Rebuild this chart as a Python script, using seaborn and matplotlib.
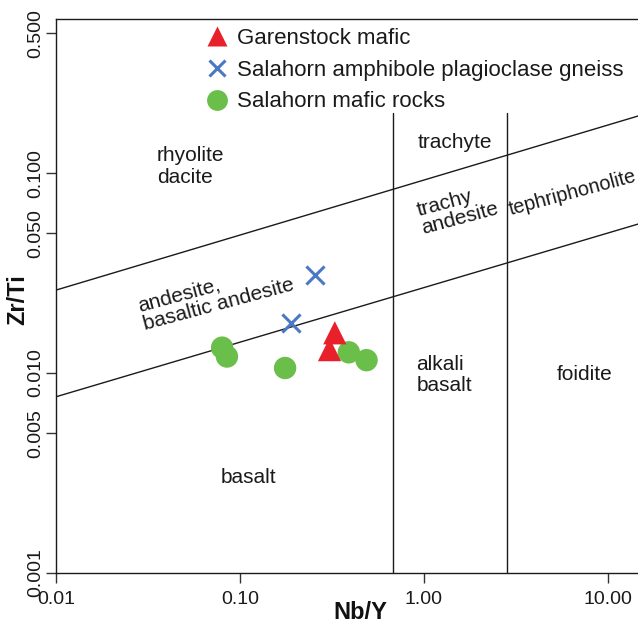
import numpy as np
import pandas as pd
import matplotlib
matplotlib.use("Agg")
import matplotlib.pyplot as plt
import seaborn as sns
from matplotlib.lines import Line2D

# ---- data ----
garen_nby = [0.328, 0.307]
garen_zrti = [0.0159, 0.0131]
gneiss_nby = [0.256, 0.189]
gneiss_zrti = [0.0309, 0.0177]
mafic_nby = [0.080, 0.085, 0.176, 0.391, 0.488]
mafic_zrti = [0.0134, 0.0121, 0.0106, 0.0127, 0.0116]
groups = ["Garenstock mafic", "Salahorn amphibole plagioclase gneiss", "Salahorn mafic rocks"]

# field boundaries (Nb/Y, Zr/Ti)
upper_bx = [0.01, 14.6]
upper_by = [0.0260, 0.193]
lower_bx = [0.01, 14.6]
lower_by = [0.00761, 0.0556]
vert_x = [0.68, 2.83]
vert_ytop = 0.2

xticks = [0.01, 0.1, 1.0, 10.0]
xticklabels = ["0.01", "0.10", "1.00", "10.00"]
yticks = [0.001, 0.005, 0.01, 0.05, 0.1, 0.5]
yticklabels = ["0.001", "0.005", "0.010", "0.050", "0.100", "0.500"]

df = pd.DataFrame({
    "Nb/Y": garen_nby + gneiss_nby + mafic_nby,
    "Zr/Ti": garen_zrti + gneiss_zrti + mafic_zrti,
    "group": [groups[0]] * len(garen_nby) + [groups[1]] * len(gneiss_nby) + [groups[2]] * len(mafic_nby),
})

sns.set_style("white")
plt.rcParams["font.family"] = ["Liberation Sans", "DejaVu Sans"]

fig = plt.figure(figsize=(6.38, 6.28), dpi=100)
W, H = 638, 628
ax = fig.add_axes([56 / W, (H - 573) / H, (638 - 56) / W, (573 - 19) / H])

red = "#E8202A"
blue = "#4A78C4"
green = "#6ABF4B"

# boundaries
ax.plot(upper_bx, upper_by, color="#1a1a1a", lw=1.0, zorder=1)
ax.plot(lower_bx, lower_by, color="#1a1a1a", lw=1.0, zorder=1)
for vx in vert_x:
    ax.plot([vx, vx], [0.001, vert_ytop], color="#1a1a1a", lw=1.0, zorder=1)

sub = df[df.group == groups[2]]
sns.scatterplot(data=sub, x="Nb/Y", y="Zr/Ti", ax=ax, marker="o", s=260, color=green,
                edgecolor="none", linewidth=0, legend=False, zorder=3)
sub = df[df.group == groups[0]]
sns.scatterplot(data=sub, x="Nb/Y", y="Zr/Ti", ax=ax, marker="^", s=280, color=red,
                edgecolor="none", linewidth=0, legend=False, zorder=4)
sub = df[df.group == groups[1]]
sns.scatterplot(data=sub, x="Nb/Y", y="Zr/Ti", ax=ax, marker="x", s=170, color=blue,
                linewidth=2.2, legend=False, zorder=4)

ax.set_xscale("log")
ax.set_yscale("log")
ax.set_xlim(0.01, 14.6)
ax.set_ylim(0.001, 0.59)
ax.set_xticks(xticks)
ax.set_xticklabels(xticklabels)
ax.set_yticks(yticks)
ax.set_yticklabels(yticklabels, rotation=90, va="center")
ax.minorticks_off()
ax.tick_params(axis="both", which="major", direction="out", length=7, width=1.0,
               color="#333333", labelsize=14, labelcolor="#1a1a1a")
ax.tick_params(axis="x", bottom=True, pad=6)
ax.tick_params(axis="y", left=True, pad=1.5)
for s in ["left", "bottom", "top"]:
    ax.spines[s].set_color("#1a1a1a")
    ax.spines[s].set_linewidth(1.0)
ax.spines["right"].set_visible(False)

ax.set_xlabel("Nb/Y", fontsize=17, fontweight="bold", color="#111111")
ax.set_ylabel("Zr/Ti", fontsize=17, fontweight="bold", color="#111111")
ax.xaxis.set_label_coords((360 - 56) / 582, -(601 - 573) / 554)
ax.yaxis.set_label_coords(-(56 - 29) / 582, (573 - 300) / 554)

# field labels
fs = 15
tc = "#1a1a1a"
ax.text(0.0354, 0.108, "rhyolite\ndacite", ha="left", va="center", fontsize=fs, color=tc, linespacing=1.15)
ax.text(1.47, 0.143, "trachyte", ha="center", va="center", fontsize=fs, color=tc)
ax.text(1.53, 0.066, "trachy\nandesite", ha="center", va="center", fontsize=fs, color=tc,
        rotation=15, rotation_mode="anchor", linespacing=0.95, multialignment="left")
ax.text(6.45, 0.080, "tephriphonolite", ha="center", va="center", fontsize=14.3, color=tc,
        rotation=15, rotation_mode="anchor")
ax.text(0.0740, 0.0245, "andesite,\nbasaltic andesite", ha="center", va="center", fontsize=fs, color=tc,
        rotation=15, rotation_mode="anchor", linespacing=1.05, multialignment="left")
ax.text(1.29, 0.0098, "alkali\nbasalt", ha="center", va="center", fontsize=fs, color=tc,
        linespacing=1.15, multialignment="left")
ax.text(7.5, 0.0098, "foidite", ha="center", va="center", fontsize=fs, color=tc)
ax.text(0.112, 0.0030, "basalt", ha="center", va="center", fontsize=fs, color=tc)

handles = [
    Line2D([], [], ls="none", marker="^", ms=15, color=red, mec="none"),
    Line2D([], [], ls="none", marker="x", ms=12, color=blue, mew=2.2),
    Line2D([], [], ls="none", marker="o", ms=15, color=green, mec="none"),
]
leg = ax.legend(handles, groups, loc="upper left", bbox_to_anchor=((206 - 56) / 582, 1 - (28 - 19) / 554),
                frameon=False, fontsize=16, handlelength=1.0, handletextpad=0.4,
                labelspacing=0.48, borderpad=0, borderaxespad=0)
for t in leg.get_texts():
    t.set_color(tc)

fig.savefig("out.png", dpi=100)
